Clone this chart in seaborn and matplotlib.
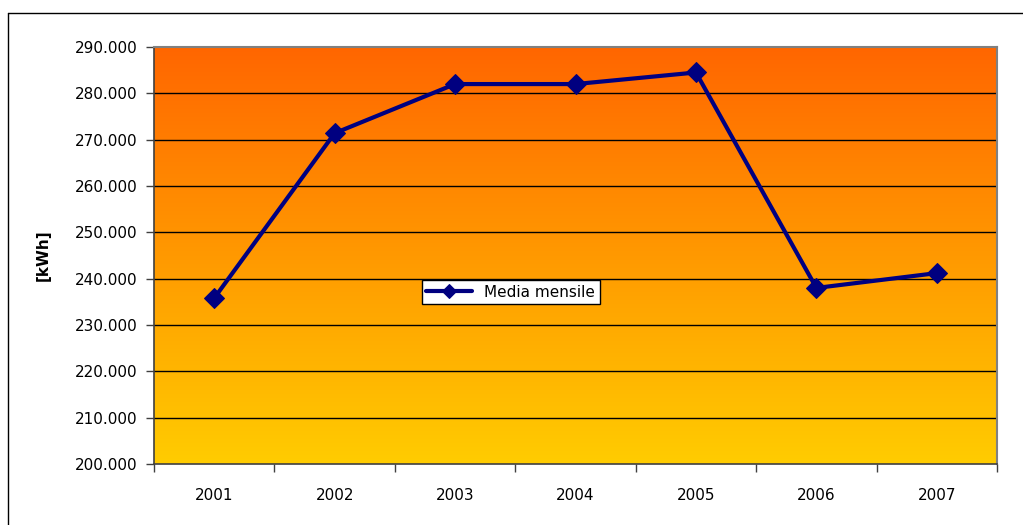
import matplotlib
matplotlib.use("Agg")
import matplotlib.pyplot as plt
import numpy as np
import pandas as pd
import seaborn as sns
from matplotlib.colors import LinearSegmentedColormap
from matplotlib.lines import Line2D
from matplotlib.ticker import FuncFormatter

years = [2001, 2002, 2003, 2004, 2005, 2006, 2007]
media_mensile = [235800, 271400, 282000, 282000, 284500, 238000, 241200]
y_ticks = list(range(200000, 290001, 10000))

sns.set_theme(style="white", rc={"text.color": "black", "axes.labelcolor": "black",
                                 "xtick.color": "black", "ytick.color": "black"})
plt.rcParams["font.family"] = ["DejaVu Sans"]

df = pd.DataFrame({"anno": years, "kwh": media_mensile})

fig = plt.figure(figsize=(10.23, 5.25), dpi=100)
ax = fig.add_axes([154 / 1023, 61 / 525, 843 / 1023, 417 / 525])

# gradient background, orange on top to yellow at the bottom
cmap = LinearSegmentedColormap.from_list("bg", ["#FFCC00", "#FF6600"])
grad = np.linspace(0, 1, 256).reshape(-1, 1)
ax.imshow(grad, cmap=cmap, aspect="auto", origin="lower",
          extent=[0, 1, 0, 1], transform=ax.transAxes, zorder=0)

for t in y_ticks[1:-1]:
    ax.axhline(t, color="black", lw=1.0, zorder=1)

sns.lineplot(data=df, x="anno", y="kwh", ax=ax, color="#000080",
             lw=3, marker="D", markersize=10, markeredgecolor="#000080",
             label="Media mensile", zorder=3)

ax.set_xlim(2000.5, 2007.5)
ax.set_ylim(200000, 290000)
ax.set_yticks(y_ticks)
ax.yaxis.set_major_formatter(FuncFormatter(lambda v, p: f"{int(v):,}".replace(",", ".")))
ax.tick_params(axis="y", direction="out", length=6, width=1, color="#404040",
               labelcolor="black", labelsize=11, pad=6, left=True)

ax.set_xticks(np.arange(2000.5, 2008, 1))
ax.set_xticklabels([])
ax.set_xticks(years, minor=True)
ax.set_xticklabels([str(y) for y in years], minor=True)
ax.tick_params(axis="x", which="major", direction="out", length=6, width=1,
               color="#404040", bottom=True)
ax.tick_params(axis="x", which="minor", length=0, labelsize=11, pad=17,
               labelcolor="black")

ax.set_xlabel("")
ax.set_ylabel("[kWh]", fontsize=11, fontweight="bold", color="black")
ax.yaxis.set_label_coords(-0.122, 0.5)

for side in ["left", "bottom"]:
    ax.spines[side].set_color("#404040")
    ax.spines[side].set_linewidth(1.2)
for side in ["top", "right"]:
    ax.spines[side].set_color("#808080")
    ax.spines[side].set_linewidth(1.5)

leg = ax.legend(loc="center", bbox_to_anchor=(0.423, 0.412), fontsize=11,
                frameon=True, fancybox=False, edgecolor="black",
                facecolor="white", framealpha=1, handlelength=3,
                borderpad=0.3, markerscale=0.7)
leg.get_frame().set_linewidth(1)
for txt in leg.get_texts():
    txt.set_color("black")

# outer chart border (only left and top visible)
fig.add_artist(Line2D([7.5 / 1023, 7.5 / 1023], [0, 1 - 13 / 525],
                      transform=fig.transFigure, color="black", lw=1))
fig.add_artist(Line2D([7.5 / 1023, 1], [1 - 13 / 525, 1 - 13 / 525],
                      transform=fig.transFigure, color="black", lw=1))

fig.savefig("out.png", dpi=100)
